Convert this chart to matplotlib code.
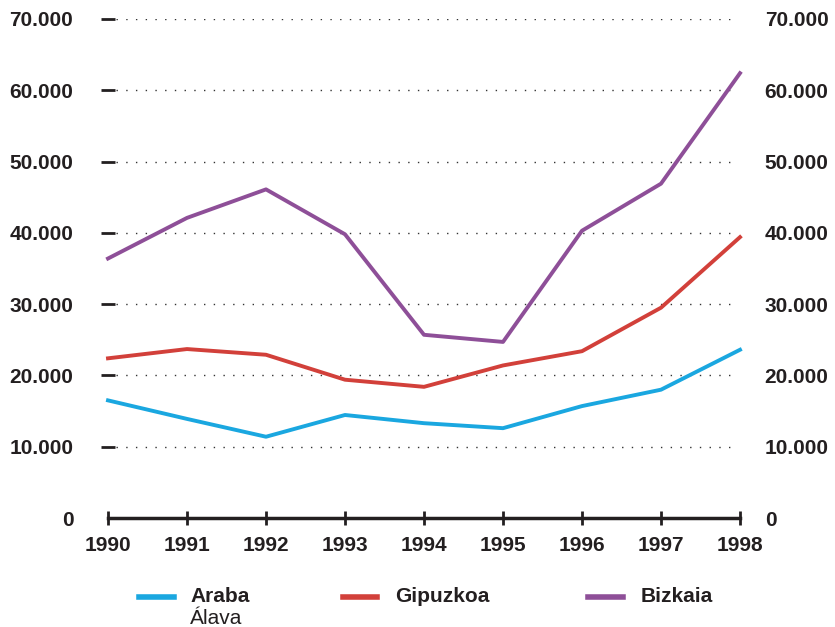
import matplotlib.pyplot as plt
from matplotlib.lines import Line2D
from matplotlib.ticker import FuncFormatter

plt.rcParams['font.family'] = ['Liberation Sans', 'DejaVu Sans']

years = [1990, 1991, 1992, 1993, 1994, 1995, 1996, 1997, 1998]
araba = [16500, 13900, 11400, 14450, 13300, 12600, 15700, 18000, 23600]
gipuzkoa = [22400, 23700, 22900, 19400, 18400, 21400, 23400, 29500, 39400]
bizkaia = [36400, 42100, 46100, 39800, 25700, 24700, 40300, 46900, 62400]

c_araba = '#1aa7e0'
c_gipuzkoa = '#d2403a'
c_bizkaia = '#8e4f98'
ink = '#231f20'

fig = plt.figure(figsize=(8.35, 6.27), dpi=100)
ax = fig.add_axes([108/835, 1 - 518/627, 632/835, 499/627])

ax.plot(years, araba, color=c_araba, lw=2.8, clip_on=False, zorder=3)
ax.plot(years, gipuzkoa, color=c_gipuzkoa, lw=2.8, clip_on=False, zorder=3)
ax.plot(years, bizkaia, color=c_bizkaia, lw=2.8, clip_on=False, zorder=3)

ax.set_xlim(1990, 1998)
ax.set_ylim(0, 70000)
ax.set_xticks(years)
ax.set_yticks(range(0, 70001, 10000))

def fmt(v, pos):
    return f'{int(v):,}'.replace(',', '.')
ax.yaxis.set_major_formatter(FuncFormatter(fmt))

for s in ['top', 'right', 'left']:
    ax.spines[s].set_visible(False)
ax.spines['bottom'].set_linewidth(2.5)
ax.spines['bottom'].set_color(ink)

# dotted grid
for v in range(10000, 70001, 10000):
    ax.axhline(v, xmin=0.012, xmax=0.99, color='#333333', lw=1.0,
               ls=(0, (1, 6)), zorder=1)

ax.tick_params(axis='x', direction='inout', length=10, width=2, color=ink,
               labelsize=15, pad=8, labelcolor=ink)
ax.tick_params(axis='y', direction='inout', length=10, width=2, color=ink,
               labelsize=15, pad=20, labelright=True, right=False,
               labelcolor=ink)
ax.yaxis.get_major_ticks()[0].tick1line.set_visible(False)
for lab in ax.get_xticklabels():
    lab.set_fontweight('bold')
for t in ax.yaxis.get_major_ticks():
    t.label1.set_fontweight('bold')
    t.label2.set_fontweight('bold')

# legend drawn in figure space
ly = 1 - 597/627
items = [(139, 174, 190, c_araba, 'Araba'),
         (343, 377, 395, c_gipuzkoa, 'Gipuzkoa'),
         (588, 623, 641, c_bizkaia, 'Bizkaia')]
for x0, x1, xt, col, name in items:
    fig.add_artist(Line2D([x0/835, x1/835], [ly, ly], color=col, lw=4))
    fig.text(xt/835, ly, name, fontsize=15, fontweight='bold',
             color=ink, va='center', ha='left')
fig.text(190/835, 1 - 618/627, 'Álava', fontsize=15, color=ink,
         va='center', ha='left')

fig.canvas.draw()
# right-hand labels sit closer to the axis than the left ones
import matplotlib.transforms as mtransforms
shift = mtransforms.ScaledTranslation(-10/100, 0, fig.dpi_scale_trans)
for t in ax.yaxis.get_major_ticks():
    t.label2.set_transform(t.label2.get_transform() + shift)

fig.savefig('out.png', dpi=100)
